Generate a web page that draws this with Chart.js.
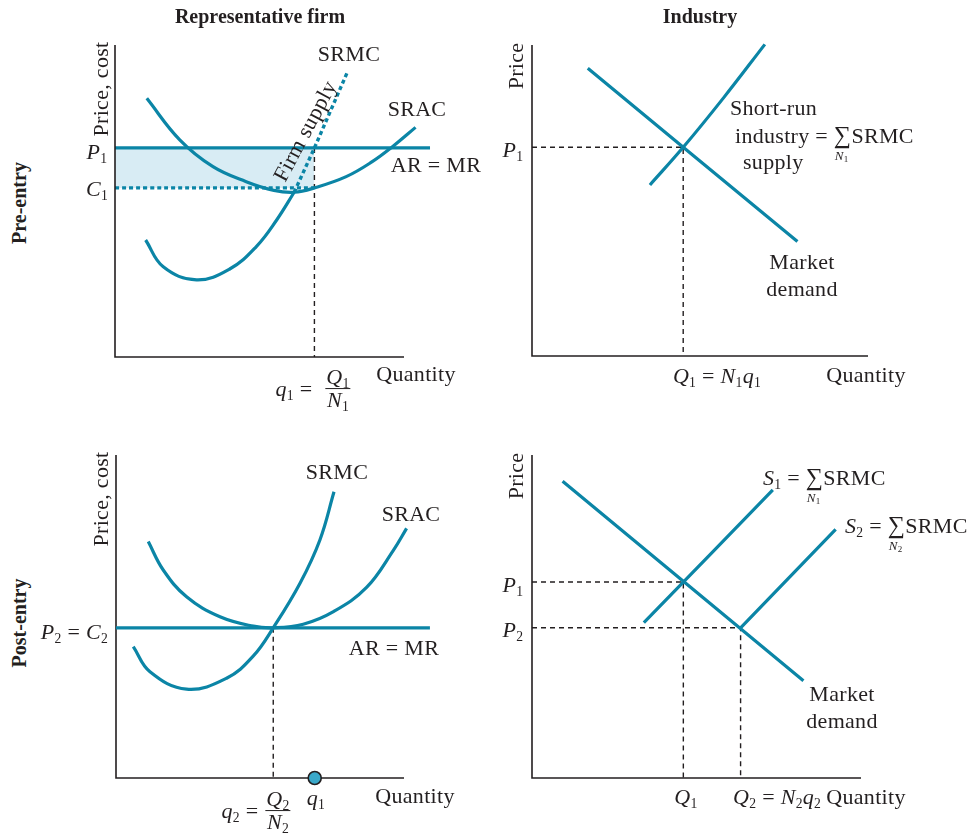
<!DOCTYPE html>
<html>
<head>
<meta charset="utf-8">
<title>Entry in a competitive industry</title>
<script src="https://cdn.jsdelivr.net/npm/chart.js@4.4.1/dist/chart.umd.min.js"></script>
<style>
  body { margin: 0; background: #fff; }
  #page { position: relative; width: 972px; height: 833px; overflow: hidden;
          font-family: "Liberation Serif", "Times New Roman", serif; color: #231f20; }
  canvas { position: absolute; }
  .t { position: absolute; white-space: nowrap; font-size: 22px; line-height: 1;
       letter-spacing: 0.3px; transform: translate(-50%, -50%); }
  .t.l { transform: translate(0, -50%); }
  .t.r { transform: translate(-100%, -50%); }
  .t.rot { transform: translate(-50%, -50%) rotate(-90deg); }
  .t.b { font-weight: bold; font-size: 20px; letter-spacing: 0; }
  i { font-style: italic; }
  sub { font-size: 0.62em; vertical-align: -0.32em; line-height: 0; font-style: normal; }
  .frac { text-align: center; }
  .frac span { display: block; line-height: 1.02; padding: 0 1px; }
  .frac span:first-child { border-bottom: 1.3px solid #231f20; }
  .sig { display: inline-block; position: relative; font-size: 1.1em; line-height: 0.9; }
  .sig small { position: absolute; left: 1px; top: 25px; font-size: 13px; line-height: 1; font-style: italic; }
  .sig small sub { font-size: 9px; }
</style>
</head>
<body>
<div id="page">
  <canvas id="firmPre"></canvas>
  <canvas id="indPre"></canvas>
  <canvas id="firmPost"></canvas>
  <canvas id="indPost"></canvas>

  <!-- column and row headings -->
  <div class="t b" style="left:260px;top:16px">Representative firm</div>
  <div class="t b" style="left:700px;top:16px">Industry</div>
  <div class="t b rot" style="left:19px;top:203px">Pre-entry</div>
  <div class="t b rot" style="left:19px;top:623px">Post-entry</div>

  <!-- firm, pre-entry -->
  <div class="t rot" style="left:101px;top:89px">Price, cost</div>
  <div class="t" style="left:349px;top:54px">SRMC</div>
  <div class="t" style="left:417px;top:109px">SRAC</div>
  <div class="t" style="left:436px;top:165px">AR = MR</div>
  <div class="t" style="left:97px;top:152px"><i>P</i><sub>1</sub></div>
  <div class="t" style="left:97px;top:189px"><i>C</i><sub>1</sub></div>
  <div class="t" style="left:305px;top:131px;transform:translate(-50%,-50%) rotate(-62deg)">Firm supply</div>
  <div class="t" style="left:294px;top:389px"><i>q</i><sub>1</sub> =</div>
  <div class="t frac" style="left:338px;top:389px"><span><i>Q</i><sub>1</sub></span><span><i>N</i><sub>1</sub></span></div>
  <div class="t" style="left:416px;top:374px">Quantity</div>

  <!-- industry, pre-entry -->
  <div class="t rot" style="left:516px;top:66px">Price</div>
  <div class="t" style="left:513px;top:150px"><i>P</i><sub>1</sub></div>
  <div class="t l" style="left:730px;top:108px">Short-run</div>
  <div class="t l" style="left:735px;top:135px">industry = <span class="sig">∑<small>N<sub>1</sub></small></span>SRMC</div>
  <div class="t l" style="left:743px;top:162px">supply</div>
  <div class="t" style="left:802px;top:262px">Market</div>
  <div class="t" style="left:802px;top:289px">demand</div>
  <div class="t" style="left:717px;top:376px"><i>Q</i><sub>1</sub> = <i>N</i><sub>1</sub><i>q</i><sub>1</sub></div>
  <div class="t" style="left:866px;top:375px">Quantity</div>

  <!-- firm, post-entry -->
  <div class="t rot" style="left:101px;top:499px">Price, cost</div>
  <div class="t" style="left:337px;top:472px">SRMC</div>
  <div class="t" style="left:411px;top:514px">SRAC</div>
  <div class="t r" style="left:108px;top:632px"><i>P</i><sub>2</sub> = <i>C</i><sub>2</sub></div>
  <div class="t" style="left:394px;top:648px">AR = MR</div>
  <div class="t" style="left:240px;top:811px"><i>q</i><sub>2</sub> =</div>
  <div class="t frac" style="left:278px;top:811px"><span><i>Q</i><sub>2</sub></span><span><i>N</i><sub>2</sub></span></div>
  <div class="t" style="left:316px;top:798px"><i>q</i><sub>1</sub></div>
  <div class="t" style="left:415px;top:796px">Quantity</div>

  <!-- industry, post-entry -->
  <div class="t rot" style="left:516px;top:476px">Price</div>
  <div class="t" style="left:513px;top:585px"><i>P</i><sub>1</sub></div>
  <div class="t" style="left:513px;top:630px"><i>P</i><sub>2</sub></div>
  <div class="t l" style="left:763px;top:477px"><i>S</i><sub>1</sub> = <span class="sig">∑<small>N<sub>1</sub></small></span>SRMC</div>
  <div class="t l" style="left:845px;top:525px"><i>S</i><sub>2</sub> = <span class="sig">∑<small>N<sub>2</sub></small></span>SRMC</div>
  <div class="t" style="left:842px;top:694px">Market</div>
  <div class="t" style="left:842px;top:721px">demand</div>
  <div class="t" style="left:686px;top:797px"><i>Q</i><sub>1</sub></div>
  <div class="t l" style="left:733px;top:797px"><i>Q</i><sub>2</sub> = <i>N</i><sub>2</sub><i>q</i><sub>2</sub></div>
  <div class="t" style="left:866px;top:797px">Quantity</div>
</div>

<script>
// --- representative firm before entry (quantity and cost on a 0-100 scale) ---
const firmQ1 = 69;        // q1 = Q1 / N1
const firmP1 = 67;        // price P1 = AR = MR
const firmC1 = 54.2;      // average cost at q1
const sracPreQ = [11, 22.4, 33.9, 45.4, 55, 62, 69, 80, 89, 96, 104];
const sracPreC = [82.9, 69.6, 61, 56.2, 53.4, 52.8, 54.2, 57.8, 62.6, 67.4, 73.6];
const srmcPreQ = [10.6, 16.7, 28.2, 39.7, 48.9, 56, 62];
const srmcPreC = [37.5, 28.9, 24.7, 28.2, 35.4, 44, 52.8];
const supplyPreQ = [62, 69, 80.5];      // firm supply = SRMC above minimum SRAC
const supplyPreC = [52.8, 67, 91.5];
const arPreEnd = 109;

// --- industry before entry ---
const indDemandQ = [16.6, 79];
const indDemandP = [92.5, 36.8];
const indSupplyQ = [35.1, 45, 57, 69.3];
const indSupplyP = [55, 67.1, 83, 100.2];
const indQ1 = 45;
const indP1 = 67.1;

// --- representative firm after entry ---
const firmQ2 = 54.6;
const firmP2 = 46.5;      // P2 = C2 = minimum SRAC
const sracPostQ = [11.2, 16.4, 24.5, 36.1, 47.7, 54.6, 65, 75.5, 87, 96.3, 100.9];
const sracPostC = [73.2, 64.4, 56.1, 49.9, 47, 46.5, 47.6, 51.5, 59, 70.5, 77.3];
const srmcPostQ = [6, 11.8, 24.5, 38.4, 47.7, 54.6, 63.9, 70.8, 75.7];
const srmcPostC = [40.7, 32.9, 27.5, 30.9, 37.8, 46.5, 60.3, 73.7, 88.6];
const arPostEnd = 109;

// --- industry after entry ---
const demandQ = [9.3, 82.5];
const demandP = [91.9, 30.1];
const s1Q = [34, 73.2];
const s1P = [48.1, 89.2];
const s2Q = [63.4, 92.3];
const s2P = [46.5, 77];
const postQ1 = 46, postP1 = 60.7;
const postQ2 = 63.4, postP2 = 46.5;

const TEAL = '#0b85a6';
const INK = '#231f20';
const PAD = 40;

function pts(xs, ys) {
  return xs.map((x, i) => ({ x: x, y: ys[i] }));
}

function curve(xs, ys, extra) {
  return Object.assign({
    data: pts(xs, ys),
    borderColor: TEAL,
    borderWidth: 3.2,
    tension: 0.4,
    clip: false
  }, extra);
}

function guide(xs, ys) {
  return {
    data: pts(xs, ys),
    borderColor: INK,
    borderWidth: 1.4,
    borderDash: [5, 4],
    clip: false
  };
}

function axes() {
  return {
    data: pts([0, 0, 100], [100, 0, 0]),
    borderColor: INK,
    borderWidth: 1.6,
    borderJoinStyle: 'miter',
    clip: false
  };
}

// box = the axis rectangle on the page; the canvas adds PAD around it
function panel(id, box, datasets) {
  const cv = document.getElementById(id);
  cv.width = box.w + 2 * PAD;
  cv.height = box.h + 2 * PAD;
  cv.style.left = (box.x - PAD) + 'px';
  cv.style.top = (box.y - PAD) + 'px';
  return new Chart(cv.getContext('2d'), {
    type: 'line',
    data: { datasets: datasets },
    options: {
      responsive: false,
      animation: false,
      events: [],
      layout: { padding: PAD },
      elements: { point: { radius: 0 }, line: { tension: 0 } },
      plugins: { legend: { display: false }, tooltip: { enabled: false } },
      scales: {
        x: { type: 'linear', min: 0, max: 100, display: false },
        y: { type: 'linear', min: 0, max: 100, display: false }
      }
    }
  });
}

panel('firmPre', { x: 115, y: 45, w: 289, h: 312 }, [
  axes(),
  curve([0, arPreEnd], [firmP1, firmP1]),
  curve(sracPreQ, sracPreC),
  curve(srmcPreQ, srmcPreC),
  curve(supplyPreQ, supplyPreC, { borderDash: [4, 3], borderWidth: 3.4, tension: 0 }),
  curve([0, firmQ1], [firmC1, firmC1], { borderDash: [4, 3], borderWidth: 3.4 }),
  guide([firmQ1, firmQ1], [firmP1, 0]),
  {
    // profit rectangle between P1 and C1
    data: pts([0, firmQ1], [firmP1, firmP1]),
    borderColor: 'transparent',
    borderWidth: 0,
    backgroundColor: '#d8ecf4',
    fill: { value: firmC1 },
    clip: false,
    order: 10
  }
]);

panel('indPre', { x: 532, y: 45, w: 336, h: 311 }, [
  axes(),
  curve(indDemandQ, indDemandP),
  curve(indSupplyQ, indSupplyP),
  guide([0, indQ1, indQ1], [indP1, indP1, 0])
]);

panel('firmPost', { x: 116, y: 455, w: 288, h: 323 }, [
  {
    // q1 marked on the quantity axis
    data: [{ x: firmQ1, y: 0 }],
    showLine: false,
    pointRadius: 6.5,
    pointBackgroundColor: '#3aa8c9',
    pointBorderColor: INK,
    pointBorderWidth: 1.6,
    clip: false
  },
  curve([0, arPostEnd], [firmP2, firmP2]),
  curve(sracPostQ, sracPostC),
  curve(srmcPostQ, srmcPostC),
  guide([firmQ2, firmQ2], [firmP2, 0]),
  axes()
]);

panel('indPost', { x: 532, y: 455, w: 329, h: 323 }, [
  axes(),
  curve(demandQ, demandP),
  curve(s1Q, s1P),
  curve(s2Q, s2P),
  guide([0, postQ1, postQ1], [postP1, postP1, 0]),
  guide([0, postQ2, postQ2], [postP2, postP2, 0])
]);
</script>
</body>
</html>
